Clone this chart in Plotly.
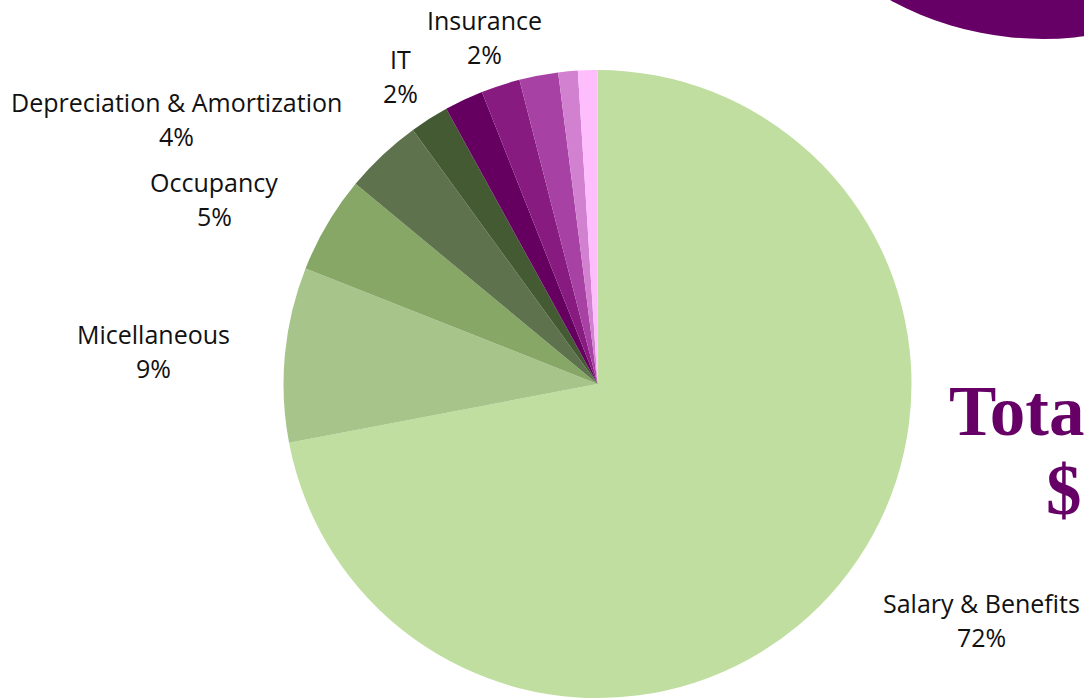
import plotly.graph_objects as go

# ---- data ----
categories = ["Salary & Benefits", "Micellaneous", "Occupancy", "Depreciation & Amortization",
              "IT", "Other 1", "Insurance", "Other 2", "Other 3", "Other 4"]
values = [72, 9, 5, 4, 2, 2, 2, 2, 1, 1]
show_label = [True, True, True, True, True, False, True, False, False, False]
slice_colors = ["#BFDE9F", "#A7C48B", "#87A766", "#5E734D", "#445A33",
                "#650060", "#871B80", "#A742A4", "#D280D0", "#FEBDFC"]

# label block centres (pixels in the 1084x698 canvas), layout only
label_pos = {
    "Salary & Benefits": (981, 620),
    "Micellaneous": (153, 351),
    "Occupancy": (214, 199),
    "Depreciation & Amortization": (176, 119),
    "IT": (400, 76),
    "Insurance": (484, 37),
}

W, H = 1084, 698
total = sum(values)

fig = go.Figure(go.Pie(
    labels=categories,
    values=values,
    sort=False,
    direction="clockwise",
    rotation=0,
    marker=dict(colors=slice_colors, line=dict(width=0)),
    textinfo="none",
    hoverinfo="label+percent",
    showlegend=False,
    domain=dict(x=[283 / W, 912 / W], y=[0, (H - 70) / H]),
))

annotations = []
font = dict(family="Open Sans, Noto Sans, sans-serif", size=25, color="#111111")
for name, v, show in zip(categories, values, show_label):
    if not show:
        continue
    cx, cy = label_pos[name]
    pct = f"{round(100 * v / total)}%"
    for text, dy in ((name, -17), (pct, 17)):
        annotations.append(dict(
            x=cx / W, y=1 - (cy + dy) / H, xref="paper", yref="paper",
            text=text, showarrow=False, xanchor="center", yanchor="middle",
            font=font,
        ))

title_font = dict(family="Liberation Serif, DejaVu Serif, serif", size=71, color="#660066")
annotations.append(dict(x=947 / W, y=1 - 411 / H, xref="paper", yref="paper",
                        text="<b>Total Expenses</b>", showarrow=False,
                        xanchor="left", yanchor="middle", font=title_font))
annotations.append(dict(x=1044 / W, y=1 - 490 / H, xref="paper", yref="paper",
                        text="<b>$1.2M</b>", showarrow=False,
                        xanchor="left", yanchor="middle", font=title_font))

cx_c, cy_c, r_c = 1043, -281, 320
fig.update_layout(
    width=W, height=H,
    margin=dict(l=0, r=0, t=0, b=0),
    paper_bgcolor="white",
    plot_bgcolor="white",
    annotations=annotations,
    shapes=[dict(type="circle", xref="paper", yref="paper",
                 x0=(cx_c - r_c) / W, x1=(cx_c + r_c) / W,
                 y0=1 - (cy_c + r_c) / H, y1=1 - (cy_c - r_c) / H,
                 fillcolor="#660066", line=dict(width=0), layer="above")],
)

fig.write_html("out.html", config={"displayModeBar": False},
               post_script="document.body.style.margin='0';document.body.style.overflow='hidden';")
